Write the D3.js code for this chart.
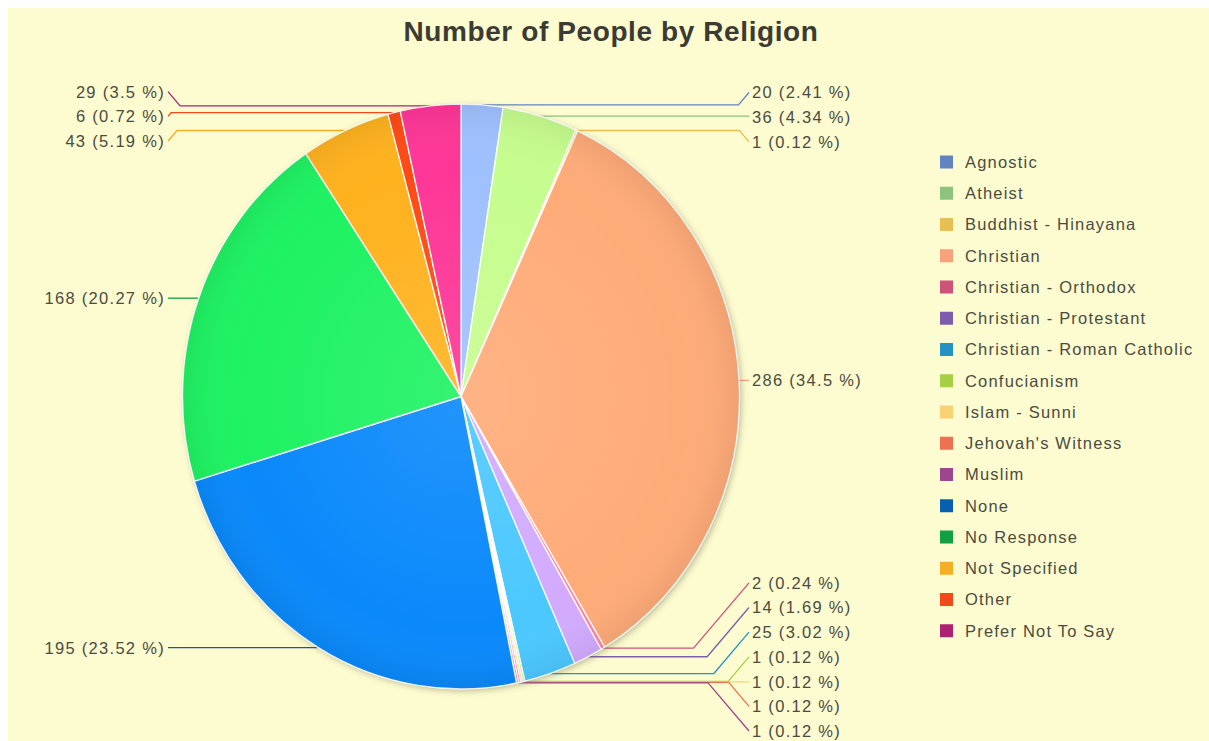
<!DOCTYPE html>
<html>
<head>
<meta charset="utf-8">
<script src="https://cdn.jsdelivr.net/npm/d3@7"></script>
<style>
  html, body { margin: 0; padding: 0; background: #ffffff; }
  svg { display: block; }
  text { font-family: "Liberation Sans", Arial, sans-serif; }
</style>
</head>
<body>
<svg id="chart" width="1209" height="741"></svg>
<script>
const title = "Number of People by Religion";
const categories = [
  "Agnostic", "Atheist", "Buddhist - Hinayana", "Christian", "Christian - Orthodox",
  "Christian - Protestant", "Christian - Roman Catholic", "Confucianism", "Islam - Sunni",
  "Jehovah's Witness", "Muslim", "None", "No Response", "Not Specified", "Other", "Prefer Not To Say"
];
const values = [20, 36, 1, 286, 2, 14, 25, 1, 1, 1, 1, 195, 168, 43, 6, 29];
const pieColors = [
  "#9fc0ff", "#c6fd8e", "#ffe27a", "#ffab78", "#ff86a6",
  "#d2abff", "#4cc8ff", "#cdf75a", "#ffe3a0", "#ff8c6a", "#e070d0",
  "#0a89fb", "#1ef262", "#ffb21e", "#ff4a14", "#fe3697"
];
const legendColors = [
  "#6282c0", "#8cc47e", "#e8c052", "#f6a27c", "#cf5378",
  "#7d5cab", "#2592c6", "#a6d040", "#f8d272", "#ee7152", "#9e4590",
  "#065fb0", "#13a044", "#f6ae22", "#ef4a1c", "#ae2273"
];

const W = 1209, H = 741;
const svg = d3.select("#chart");

// background panel
svg.append("rect").attr("x", 8).attr("y", 8).attr("width", W - 8).attr("height", H - 8).attr("fill", "#fdfcd0");

const defs = svg.append("defs");
const flt = defs.append("filter").attr("id", "shadow").attr("x", "-10%").attr("y", "-10%").attr("width", "120%").attr("height", "120%");
flt.append("feDropShadow").attr("dx", 2).attr("dy", 2).attr("stdDeviation", 3).attr("flood-color", "#6b6a50").attr("flood-opacity", 0.45);
const rg = defs.append("radialGradient").attr("id", "shade").attr("cx", "50%").attr("cy", "50%").attr("r", "50%");
rg.append("stop").attr("offset", "0%").attr("stop-color", "#ffffff").attr("stop-opacity", 0.10);
rg.append("stop").attr("offset", "80%").attr("stop-color", "#ffffff").attr("stop-opacity", 0.0);
rg.append("stop").attr("offset", "100%").attr("stop-color", "#000000").attr("stop-opacity", 0.06);

// title
svg.append("text")
  .attr("x", 611).attr("y", 41)
  .attr("text-anchor", "middle")
  .attr("font-size", 28).attr("font-weight", "bold")
  .attr("letter-spacing", 0.6)
  .attr("fill", "#3b3b33")
  .text(title);

// pie geometry
const cx = 461, cy = 396.5, r = 278.5, sy = 1.05;
const total = d3.sum(values);
const pie = d3.pie().sort(null).value(d => d)(values);
const arc = d3.arc().innerRadius(0).outerRadius(r);
const edgeArc = d3.arc().innerRadius(r).outerRadius(r);

const fmtPct = v => (+(v / total * 100).toFixed(2)) + " %";

// label layout
const items = pie.map((p, i) => {
  const c = edgeArc.centroid(p);
  const mid = (p.startAngle + p.endAngle) / 2;
  return {
    i, x0: cx + c[0], y0: cy + c[1] * sy,
    side: mid < Math.PI ? "right" : "left",
    text: values[i] + " (" + fmtPct(values[i]) + ")"
  };
});

const spacing = 24.7, minY = 70, maxY = 731;
function layoutSide(list) {
  list.sort((a, b) => a.y0 - b.y0);
  let clusters = list.map(d => ({ items: [d], mean: d.y0 }));
  const place = c => {
    const n = c.items.length;
    let start = c.mean - (n - 1) * spacing / 2;
    if (start < minY) start = minY;
    if (start + (n - 1) * spacing > maxY) start = maxY - (n - 1) * spacing;
    c.start = start;
  };
  clusters.forEach(place);
  let merged = true;
  while (merged) {
    merged = false;
    for (let k = 0; k < clusters.length - 1; k++) {
      const a = clusters[k], b = clusters[k + 1];
      const aEnd = a.start + (a.items.length - 1) * spacing;
      if (aEnd + spacing > b.start) {
        const its = a.items.concat(b.items);
        const c = { items: its, mean: d3.mean(its, d => d.y0) };
        place(c);
        clusters.splice(k, 2, c);
        merged = true;
        break;
      }
    }
  }
  clusters.forEach(c => c.items.forEach((d, j) => d.ly = c.start + j * spacing));
}
layoutSide(items.filter(d => d.side === "right"));
layoutSide(items.filter(d => d.side === "left"));

const rightEnd = 749, leftEnd = 168, slope = 0.85;
items.forEach(d => {
  const dy = Math.abs(d.ly - d.y0);
  if (d.side === "right") {
    d.x1 = Math.max(d.x0, rightEnd - slope * dy);
    d.x2 = rightEnd;
  } else {
    d.x1 = Math.min(d.x0, leftEnd + slope * dy);
    d.x2 = leftEnd;
  }
});

// leader lines
const line = d3.line();
svg.append("g").selectAll("path").data(items).join("path")
  .attr("d", d => line([[d.x0, d.y0], [d.x1, d.y0], [d.x2, d.ly]]))
  .attr("fill", "none")
  .attr("stroke", d => legendColors[d.i])
  .attr("stroke-width", 1.3);

// labels
svg.append("g").selectAll("text").data(items).join("text")
  .attr("x", d => d.side === "right" ? d.x2 + 3 : d.x2 - 3)
  .attr("y", d => d.ly)
  .attr("dy", "0.36em")
  .attr("text-anchor", d => d.side === "right" ? "start" : "end")
  .attr("font-size", 16.5)
  .attr("letter-spacing", 1.3)
  .attr("fill", "#4b4b40")
  .text(d => d.text);

// pie
const pg = svg.append("g").attr("transform", `translate(${cx},${cy}) scale(1,${sy})`);
pg.append("circle").attr("r", r).attr("fill", "#fdfcd0").attr("filter", "url(#shadow)");
pg.selectAll("path.slice").data(pie).join("path")
  .attr("class", "slice")
  .attr("d", arc)
  .attr("fill", (d, i) => pieColors[i])
  .attr("stroke", "#ffffff")
  .attr("stroke-width", 1.4)
  .attr("stroke-opacity", 0.9)
  .attr("vector-effect", "non-scaling-stroke");
pg.append("circle").attr("r", r).attr("fill", "url(#shade)").attr("pointer-events", "none");

// legend
const lx = 940, ly0 = 162, lstep = 31.25;
const lg = svg.append("g");
const rows = lg.selectAll("g").data(categories).join("g")
  .attr("transform", (d, i) => `translate(${lx},${ly0 + i * lstep})`);
rows.append("rect").attr("x", 0).attr("y", -6.5).attr("width", 13).attr("height", 13)
  .attr("fill", (d, i) => legendColors[i]);
rows.append("text").attr("x", 25).attr("y", 0).attr("dy", "0.36em")
  .attr("font-size", 16.5).attr("letter-spacing", 1.2)
  .attr("fill", "#4b4b40")
  .text(d => d);
</script>
</body>
</html>
